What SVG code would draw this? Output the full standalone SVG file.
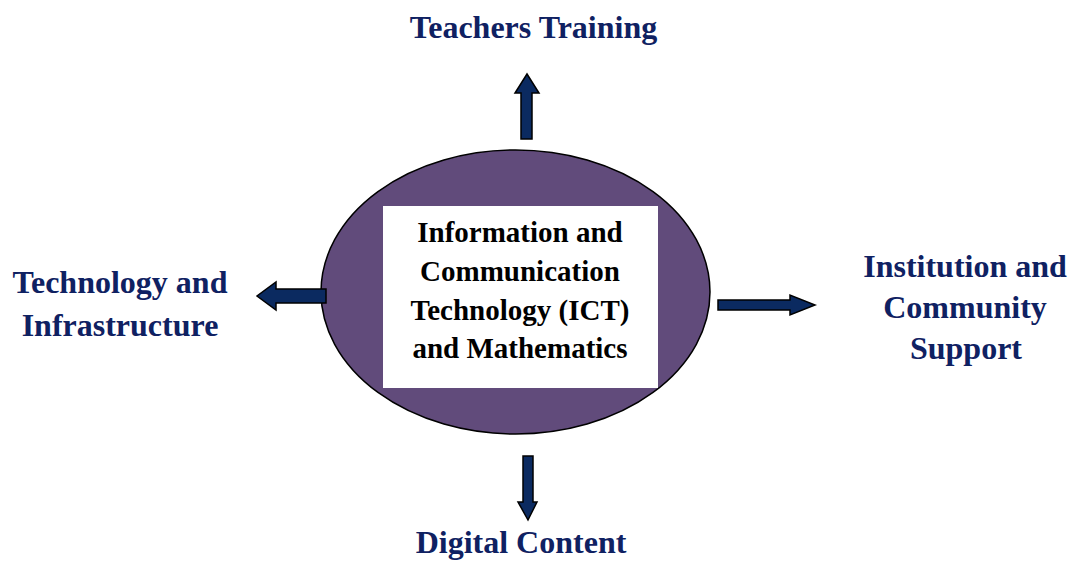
<svg xmlns="http://www.w3.org/2000/svg" width="1071" height="561" viewBox="0 0 1071 561">
  <defs>
    <style>
      .lbl { font-family: "Liberation Serif", "Times New Roman", serif; font-weight: bold; font-size: 32px; fill: #0f2162; text-anchor: middle; }
      .core { font-family: "Liberation Serif", "Times New Roman", serif; font-weight: bold; font-size: 29px; fill: #000000; text-anchor: middle; }
      .arrow { fill: #0b2a60; stroke: #000000; stroke-width: 1.5; stroke-linejoin: miter; }
    </style>
  </defs>
  <rect width="1071" height="561" fill="#ffffff"/>

  <g id="center-node">
    <ellipse cx="515.5" cy="292" rx="194.5" ry="142" fill="#614b7b" stroke="#000000" stroke-width="1.5"/>
    <rect x="383" y="206" width="275" height="182" fill="#ffffff"/>
    <text class="core" x="520" y="242">Information and</text>
    <text class="core" x="520" y="281">Communication</text>
    <text class="core" x="520" y="320">Technology (ICT)</text>
    <text class="core" x="520" y="358">and Mathematics</text>
  </g>

  <g id="connectors">
    <polygon class="arrow" points="521,139 521,93 515,93 527,74 539,93 532,93 532,139"/>
    <polygon class="arrow" points="326,289 276,289 276,282 257,296 276,310 276,303 326,303"/>
    <polygon class="arrow" points="718,300 790,300 790,295 815,305 790,315 790,310 718,310"/>
    <polygon class="arrow" points="523,456 533,456 533,502 537,502 528,520 518,502 523,502"/>
  </g>

  <g id="teachers-training">
    <text class="lbl" x="533.5" y="38">Teachers Training</text>
  </g>
  <g id="technology-infrastructure">
    <text class="lbl" x="120" y="293">Technology and</text>
    <text class="lbl" x="120" y="336">Infrastructure</text>
  </g>
  <g id="institution-community">
    <text class="lbl" x="965" y="277">Institution and</text>
    <text class="lbl" x="965" y="318">Community</text>
    <text class="lbl" x="966" y="359">Support</text>
  </g>
  <g id="digital-content">
    <text class="lbl" x="521" y="553">Digital Content</text>
  </g>
</svg>
